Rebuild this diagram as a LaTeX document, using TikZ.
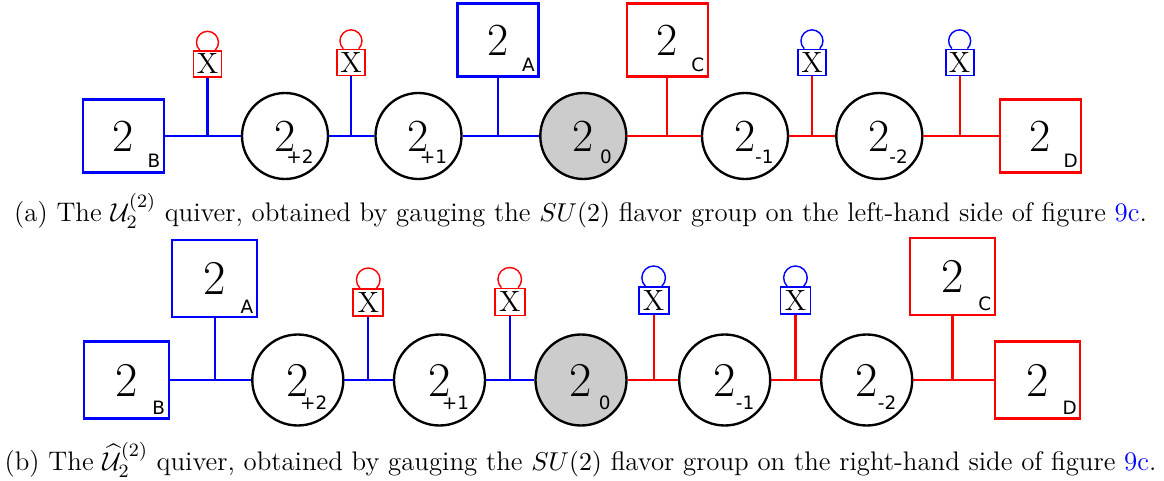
\documentclass[tikz,border=0pt]{standalone}
\usepackage{amsmath, amssymb}
\usepackage{fontspec}
\newfontfamily\subfont{DejaVu Sans}
\usepackage{tikz}

\begin{document}
\begin{tikzpicture}[x=0.424pt, y=-0.424pt,
    gauge/.style={circle, draw=black, line width=1pt, fill=white, inner sep=0pt, minimum size=86*0.424pt, font=\fontsize{19.5}{19}\selectfont},
    gaugeb/.style={gauge, minimum size=91*0.424pt, font=\fontsize{20.6}{20}\selectfont},
    flavor/.style={rectangle, line width=0.95pt, fill=white, inner sep=0pt, minimum width=81*0.424pt, minimum height=73*0.424pt, font=\fontsize{19.5}{19}\selectfont},
    flavorb/.style={flavor, minimum width=85*0.424pt, minimum height=77*0.424pt, font=\fontsize{20.6}{20}\selectfont},
    xbox/.style={rectangle, line width=0.75pt, fill=white, inner sep=0pt, minimum width=28*0.424pt, minimum height=26*0.424pt, font=\fontsize{12.4}{12}\selectfont},
    xboxb/.style={xbox, minimum width=30*0.424pt, minimum height=27*0.424pt},
    sub/.style={inner sep=0pt, font=\subfont\fontsize{7.8}{8}\selectfont},
    bline/.style={blue, line width=1pt},
    rline/.style={red, line width=1pt},
    loopl/.style={line width=0.6pt},
    captext/.style={inner sep=0pt, font=\fontsize{11.38}{13.5}\selectfont}]

  \useasboundingbox (0,0) rectangle (1164,481);

  % (a) quiver de arriba
  \node[flavor, draw=blue] (B) at (123.5,136) {2};
  \node[gauge] (p2) at (285,136) {2};
  \node[gauge] (p1) at (418.5,136) {2};
  \node[gauge, fill=black!20] (z) at (583.3,136) {2};
  \node[gauge] (m1) at (745,136) {2};
  \node[gauge] (m2) at (879.3,136) {2};
  \node[flavor, draw=red] (D) at (1040.3,136) {2};
  \node[flavor, draw=blue] (A) at (498,40) {2};
  \node[flavor, draw=red] (C) at (667.3,40) {2};
  \node[xbox, draw=red] (x1) at (207.5,64) {X};
  \node[xbox, draw=red] (x2) at (351,62.5) {X};
  \node[xbox, draw=blue] (x3) at (812,62.5) {X};
  \node[xbox, draw=blue] (x4) at (959.7,62.5) {X};

  % subindices
  \node[sub] (Bs) at ([shift={(30.5,24.5)}]B.center) {B};
  \node[sub] (As) at ([shift={(30.5,24.5)}]A.center) {A};
  \node[sub] (Cs) at ([shift={(30.5,24.5)}]C.center) {C};
  \node[sub] (Ds) at ([shift={(30.5,24.5)}]D.center) {D};
  \node[sub, anchor=east] (p2s) at ([shift={(29,21)}]p2.center) {+2};
  \node[sub, anchor=east] (p1s) at ([shift={(29,21)}]p1.center) {+1};
  \node[sub, anchor=east] (zs) at ([shift={(29,21)}]z.center) {0};
  \node[sub, anchor=east] (m1s) at ([shift={(29,21)}]m1.center) {-1};
  \node[sub, anchor=east] (m2s) at ([shift={(29,21)}]m2.center) {-2};

  % lineas
  \draw[bline] (B) -- (p2);
  \draw[bline] (p2) -- (p1);
  \draw[bline] (p1) -- (z);
  \draw[rline] (z) -- (m1);
  \draw[rline] (m1) -- (m2);
  \draw[rline] (m2) -- (D);
  \draw[bline] (x1) -- (x1 |- B);
  \draw[bline] (x2) -- (x2 |- p2);
  \draw[bline] (A) -- (A |- p1);
  \draw[rline] (C) -- (C |- z);
  \draw[rline] (x3) -- (x3 |- m1);
  \draw[rline] (x4) -- (x4 |- m2);

  % lazos
  \draw[loopl, red] ([shift={(-7.8,0)}]x1.north) arc[start angle=225, end angle=-45, radius=4.66pt];
  \draw[loopl, red] ([shift={(-7.8,0)}]x2.north) arc[start angle=225, end angle=-45, radius=4.66pt];
  \draw[loopl, blue] ([shift={(-7.8,0)}]x3.north) arc[start angle=225, end angle=-45, radius=4.66pt];
  \draw[loopl, blue] ([shift={(-7.8,0)}]x4.north) arc[start angle=225, end angle=-45, radius=4.66pt];

  \node[captext, anchor=base] (capa) at (580.5,221) {(a) The $\mathcal{U}_2^{(2)}$ quiver, obtained by gauging the $SU(2)$ flavor group on the left-hand side of figure \textcolor{blue}{9c}.};

  % (b) quiver de abajo
  \node[flavorb, draw=blue] (Bb) at (126.3,380) {2};
  \node[flavorb, draw=blue] (Ab) at (214.7,278.5) {2};
  \node[gaugeb] (p2b) at (297.8,380) {2};
  \node[gaugeb] (p1b) at (439.5,380) {2};
  \node[gaugeb, fill=black!20] (zb) at (581,380) {2};
  \node[gaugeb] (m1b) at (724.7,380) {2};
  \node[gaugeb] (m2b) at (866.7,380) {2};
  \node[flavorb, draw=red] (Cb) at (952.5,276.3) {2};
  \node[flavorb, draw=red] (Db) at (1037.5,380) {2};
  \node[xboxb, draw=red] (x1b) at (368.3,302.5) {X};
  \node[xboxb, draw=red] (x2b) at (509.8,302) {X};
  \node[xboxb, draw=blue] (x3b) at (653.7,300.5) {X};
  \node[xboxb, draw=blue] (x4b) at (795.5,300.5) {X};

  % subindices
  \node[sub] (Bbs) at ([shift={(32.3,27.8)}]Bb.center) {B};
  \node[sub] (Abs) at ([shift={(32.3,27.8)}]Ab.center) {A};
  \node[sub] (Cbs) at ([shift={(32.3,27.8)}]Cb.center) {C};
  \node[sub] (Dbs) at ([shift={(32.3,27.8)}]Db.center) {D};
  \node[sub, anchor=east] (p2bs) at ([shift={(30,23)}]p2b.center) {+2};
  \node[sub, anchor=east] (p1bs) at ([shift={(30,23)}]p1b.center) {+1};
  \node[sub, anchor=east] (zbs) at ([shift={(30,23)}]zb.center) {0};
  \node[sub, anchor=east] (m1bs) at ([shift={(30,23)}]m1b.center) {-1};
  \node[sub, anchor=east] (m2bs) at ([shift={(30,23)}]m2b.center) {-2};

  % lineas
  \draw[bline] (Bb) -- (p2b);
  \draw[bline] (p2b) -- (p1b);
  \draw[bline] (p1b) -- (zb);
  \draw[rline] (zb) -- (m1b);
  \draw[rline] (m1b) -- (m2b);
  \draw[rline] (m2b) -- (Db);
  \draw[bline] (Ab) -- (Ab |- Bb);
  \draw[bline] (x1b) -- (x1b |- p2b);
  \draw[bline] (x2b) -- (x2b |- p1b);
  \draw[rline] (x3b) -- (x3b |- zb);
  \draw[rline] (x4b) -- (x4b |- m1b);
  \draw[rline] (Cb) -- (Cb |- m2b);

  % lazos
  \draw[loopl, red] ([shift={(-8.4,0)}]x1b.north) arc[start angle=225, end angle=-45, radius=5pt];
  \draw[loopl, red] ([shift={(-8.4,0)}]x2b.north) arc[start angle=225, end angle=-45, radius=5pt];
  \draw[loopl, blue] ([shift={(-8.4,0)}]x3b.north) arc[start angle=225, end angle=-45, radius=5pt];
  \draw[loopl, blue] ([shift={(-8.4,0)}]x4b.north) arc[start angle=225, end angle=-45, radius=5pt];

  \node[captext, anchor=base] (capb) at (580.5,470) {(b) The $\widehat{\mathcal{U}}_2^{(2)}$ quiver, obtained by gauging the $SU(2)$ flavor group on the right-hand side of figure \textcolor{blue}{9c}.};
\end{tikzpicture}
\end{document}
